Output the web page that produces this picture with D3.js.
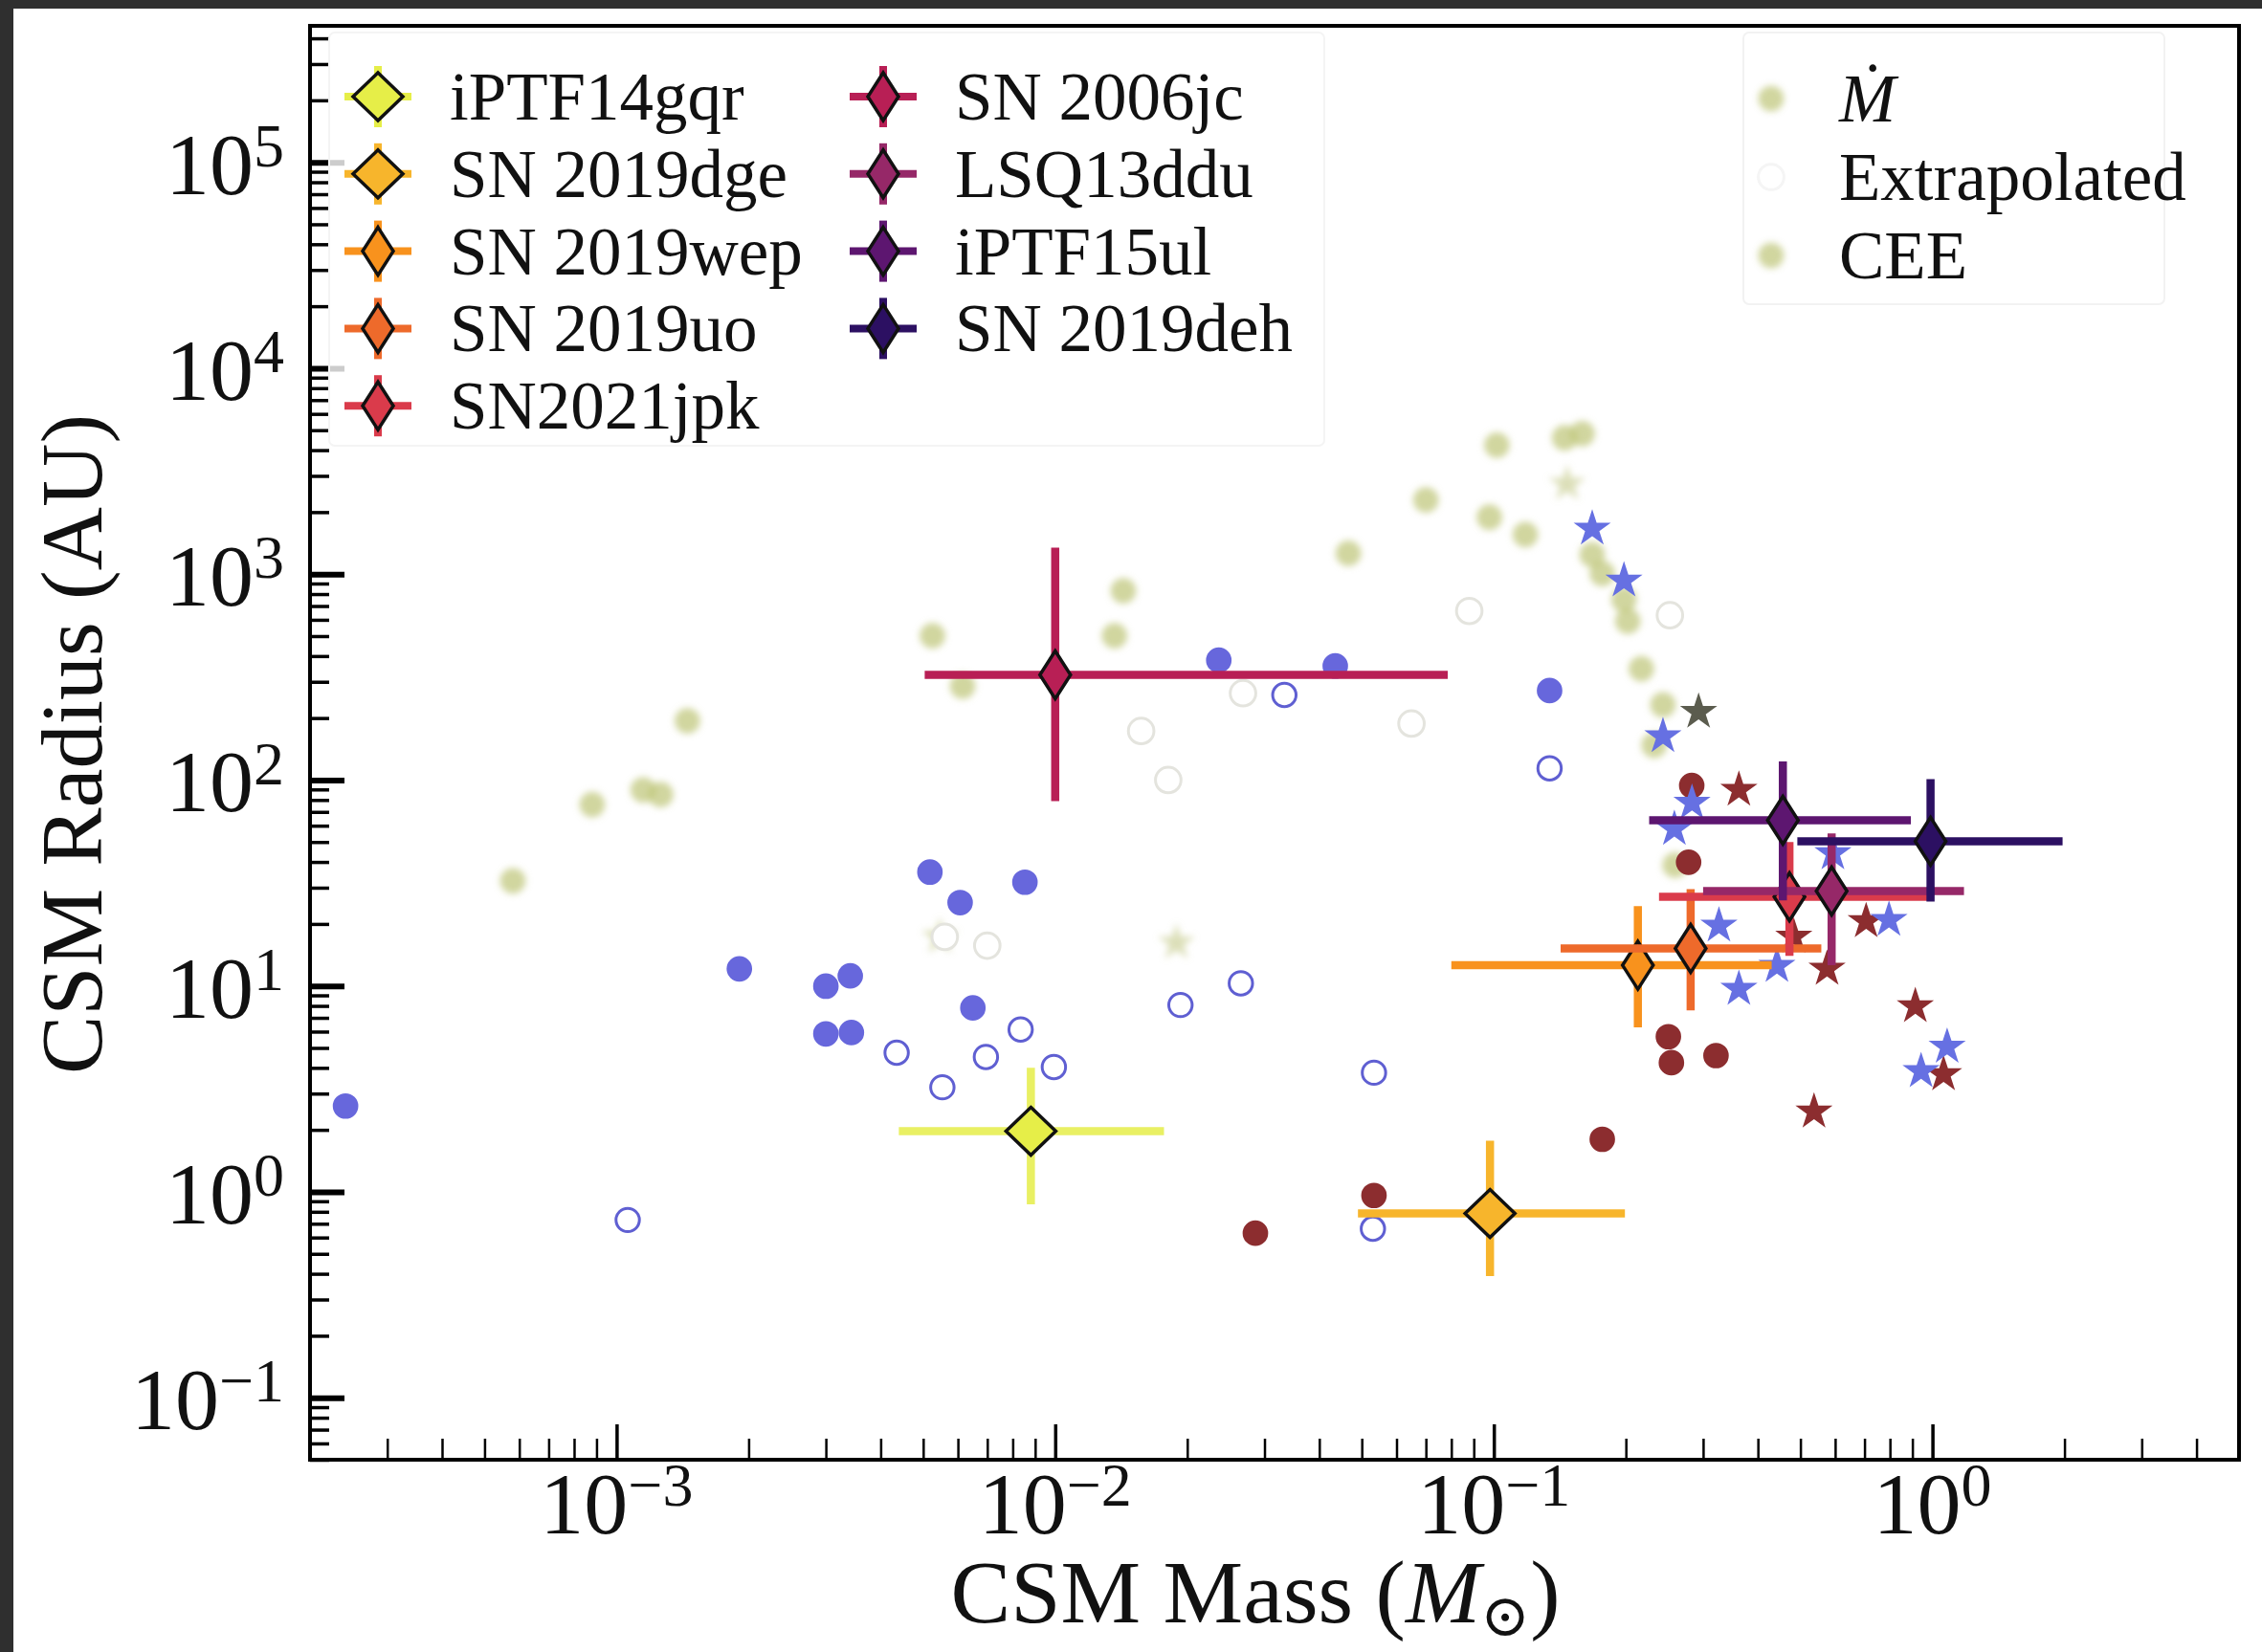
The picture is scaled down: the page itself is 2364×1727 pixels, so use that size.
<!DOCTYPE html>
<html>
<head>
<meta charset="utf-8">
<style>
  body { margin: 0; background: #ffffff; }
  text { font-family: "Liberation Serif", "DejaVu Serif", serif; fill: #111; }
</style>
<script src="https://d3js.org/d3.v7.min.js"></script>
</head>
<body>
<div id="chartContainer"></div>
<script type="text/javascript">
  // CSM mass vs CSM radius for interacting SNe, with literature samples behind

  // our objects: best value and error range in mass (Msun) and radius (AU)
  var sneNames = ["iPTF14gqr", "SN 2019dge", "SN 2019wep", "SN 2019uo", "SN2021jpk",
                  "SN 2006jc", "LSQ13ddu", "iPTF15ul", "SN 2019deh"];
  var sneMass   = [0.0088, 0.098, 0.213, 0.281, 0.472, 0.010, 0.589, 0.456, 0.99];
  var sneMassLo = [0.0044, 0.049, 0.080, 0.142, 0.238, 0.00504, 0.30, 0.226, 0.492];
  var sneMassHi = [0.0177, 0.199, 0.430, 0.558, 1.00, 0.0785, 1.18, 0.893, 1.98];
  var sneRad    = [1.97, 0.785, 12.6, 15.2, 27.1, 324, 28.9, 63.8, 50.4];
  var sneRadLo  = [0.87, 0.39, 6.3, 7.6, 14, 79, 12.6, 26, 25.7];
  var sneRadHi  = [4.0, 1.77, 24.4, 29.5, 50, 1346, 55, 123, 101];

  // Mdot based estimates (filled, faded)
  var mdotMass = [5.8e-4, 8.8e-4, 1.15e-3, 1.26e-3, 1.45e-3, 5.25e-3, 6.15e-3, 0.01365, 0.0143,
                  0.0466, 0.070, 0.0977, 0.1016, 0.118, 0.145, 0.159, 0.1676, 0.1767,
                  0.198, 0.217, 0.232, 0.259, 0.202, 0.243];
  var mdotRad  = [32.4, 76, 89.5, 85, 194, 502, 286, 502, 830,
                  1262, 2291, 1889, 4230, 1556, 4590, 4810, 1242, 1006,
                  753, 347, 147.6, 38.6, 591, 232];

  // common envelope ejection models
  var ceeMass = [0.147, 5.46e-3, 0.0189];
  var ceeRad  = [2737, 17.3, 16.2];

  // extrapolated radii (open, very faint)
  var extrapMass = [0.0268, 0.0157, 0.0649, 0.0879, 0.0181, 5.6e-3, 7.0e-3, 0.252];
  var extrapRad  = [264, 173, 188, 662, 100, 17.3, 15.7, 631];

  // literature sample, blue
  var blueMass = [2.41e-4, 1.905e-3, 3.0e-3, 3.41e-3, 3.0e-3, 3.43e-3, 5.18e-3, 6.07e-3,
                  6.49e-3, 8.53e-3, 0.0236, 0.0435, 0.134];
  var blueRad  = [2.61, 12.1, 9.97, 11.2, 5.85, 5.94, 35.7, 25.4,
                  7.82, 31.9, 382, 358, 272];
  var blueOpenMass = [1.06e-3, 4.35e-3, 5.53e-3, 6.95e-3, 8.34e-3, 9.93e-3, 0.0193,
                      0.0265, 0.0333, 0.0533, 0.053, 0.134];
  var blueOpenRad  = [0.73, 4.74, 3.22, 4.52, 6.14, 4.04, 8.08,
                      10.3, 259, 3.79, 0.662, 114];
  var blueStarMass = [0.1676, 0.198, 0.243, 0.283, 0.258, 0.593, 0.326, 0.796,
                      0.442, 0.362, 1.08, 0.942];
  var blueStarRad  = [1660, 929, 163, 77.4, 57.8, 44, 19.6, 20.9,
                      12.5, 9.66, 5.06, 3.85];

  // literature sample, dark red
  var redMass = [0.0286, 0.0533, 0.1767, 0.250, 0.254, 0.321, 0.2826, 0.278];
  var redRad  = [0.63, 0.96, 1.80, 5.67, 4.24, 4.59, 94, 39.9];
  var redStarMass = [0.362, 0.537, 0.483, 0.575, 0.706, 0.914, 1.06];
  var redStarRad  = [89.5, 2.45, 17.3, 12.1, 20.6, 7.96, 3.72];

  var grayStarMass = [0.293];
  var grayStarRad  = [214];

  var xMajor = [1e-3, 1e-2, 1e-1, 1];
  var yMajor = [1e-1, 1e0, 1e1, 1e2, 1e3, 1e4, 1e5];
  var xExp = ["\u22123", "\u22122", "\u22121", "0"];
  var yExp = ["\u22121", "0", "1", "2", "3", "4", "5"];

  var mdotLabels = ["\u1E40", "Extrapolated", "CEE"];

  // colours for our objects, light to dark
  var sneColors = ["#e6ee48", "#f7b52c", "#f8921d", "#ee6a2b", "#da3b4b",
                   "#b81f55", "#962868", "#5d1670", "#2c1062"];
  var wideDiamond = [true, true, false, false, false, false, false, false, false];

  var W = 2364, H = 1727;
  var plotL = 324, plotR = 2340, plotT = 27, plotB = 1526;

  var svg = d3.select("#chartContainer").append("svg")
      .attr("width", W).attr("height", H);

  svg.append("rect").attr("width", W).attr("height", H).attr("fill", "#fff");
  // dark border along the top and left edges
  svg.append("rect").attr("x", 0).attr("y", 0).attr("width", W).attr("height", 9).attr("fill", "#2f2f2f");
  svg.append("rect").attr("x", 0).attr("y", 0).attr("width", 14).attr("height", H).attr("fill", "#2f2f2f");

  var defs = svg.append("defs");
  defs.append("filter").attr("id", "soft")
      .attr("x", "-50%").attr("y", "-50%").attr("width", "200%").attr("height", "200%")
    .append("feGaussianBlur").attr("stdDeviation", 3.5);
  defs.append("clipPath").attr("id", "plotClip")
    .append("rect").attr("x", plotL).attr("y", plotT).attr("width", plotR - plotL).attr("height", plotB - plotT);

  var x = d3.scaleLog().domain([2e-4, 5]).range([plotL, plotR]);
  var y = d3.scaleLog().domain([0.05, 4.6e5]).range([plotB, plotT]);

  function minors(lo, hi, k0, k1) {
    var out = [];
    for (var k = k0; k <= k1; k++) {
      for (var m = 2; m <= 9; m++) {
        var v = m * Math.pow(10, k);
        if (v >= lo && v <= hi) out.push(v);
      }
    }
    return out;
  }

  var plot = svg.append("g").attr("clip-path", "url(#plotClip)");

  function zip(a, b) { return a.map(function (d, i) { return [d, b[i]]; }); }
  function place(d) { return "translate(" + x(d[0]) + "," + y(d[1]) + ")"; }

  var circle = d3.symbol().type(d3.symbolCircle).size(560);
  var star = d3.symbol().type(d3.symbolStar).size(470);

  // faded model points
  plot.append("g").attr("filter", "url(#soft)")
    .selectAll("path").data(zip(mdotMass, mdotRad)).enter().append("path")
      .attr("transform", place)
      .attr("d", circle)
      .attr("fill", "#bfc67a").attr("opacity", 0.72);

  plot.append("g").attr("filter", "url(#soft)")
    .selectAll("path").data(zip(ceeMass, ceeRad)).enter().append("path")
      .attr("transform", place)
      .attr("d", star)
      .attr("fill", "#c4ca8a").attr("opacity", 0.6);

  plot.append("g")
    .selectAll("path").data(zip(extrapMass, extrapRad)).enter().append("path")
      .attr("transform", place)
      .attr("d", circle)
      .attr("fill", "#fff").attr("stroke", "#e4e4de").attr("stroke-width", 3);

  // literature points
  plot.append("g")
    .selectAll("path").data(zip(blueOpenMass, blueOpenRad)).enter().append("path")
      .attr("transform", place)
      .attr("d", d3.symbol().type(d3.symbolCircle).size(470))
      .attr("fill", "#fff").attr("stroke", "#5f5fd2").attr("stroke-width", 3);

  plot.append("g")
    .selectAll("path").data(zip(blueMass, blueRad)).enter().append("path")
      .attr("transform", place)
      .attr("d", circle)
      .attr("fill", "#6767dc");

  plot.append("g")
    .selectAll("path").data(zip(redMass, redRad)).enter().append("path")
      .attr("transform", place)
      .attr("d", circle)
      .attr("fill", "#8c2d2f");

  plot.append("g")
    .selectAll("path").data(zip(redStarMass, redStarRad)).enter().append("path")
      .attr("transform", place)
      .attr("d", star)
      .attr("fill", "#8c2d2f");

  plot.append("g")
    .selectAll("path").data(zip(blueStarMass, blueStarRad)).enter().append("path")
      .attr("transform", place)
      .attr("d", star)
      .attr("fill", "#6670e2");

  plot.append("g")
    .selectAll("path").data(zip(grayStarMass, grayStarRad)).enter().append("path")
      .attr("transform", place)
      .attr("d", star)
      .attr("fill", "#5b5c4e");

  // diamond outlines; thin ones for most objects
  function diamondPath(wide) {
    var hw = wide ? 26 : 16, hh = 25;
    return "M0," + (-hh) + "L" + hw + ",0L0," + hh + "L" + (-hw) + ",0Z";
  }

  // error bars and markers for our objects
  var sne = sneNames.map(function (n, i) { return i; });
  var eb = svg.append("g").attr("clip-path", "url(#plotClip)");
  sne.forEach(function (i) {
    var g = eb.append("g");
    var c = sneColors[i];
    var op = i === 0 ? 0.85 : 1;
    g.append("line")
      .attr("x1", x(sneMassLo[i])).attr("x2", x(sneMassHi[i]))
      .attr("y1", y(sneRad[i])).attr("y2", y(sneRad[i]))
      .attr("stroke", c).attr("stroke-width", 8.5).attr("opacity", op);
    g.append("line")
      .attr("x1", x(sneMass[i])).attr("x2", x(sneMass[i]))
      .attr("y1", y(sneRadLo[i])).attr("y2", y(sneRadHi[i]))
      .attr("stroke", c).attr("stroke-width", 8.5).attr("opacity", op);
    g.append("path")
      .attr("transform", "translate(" + x(sneMass[i]) + "," + y(sneRad[i]) + ")")
      .attr("d", diamondPath(wideDiamond[i]))
      .attr("fill", c).attr("stroke", "#111").attr("stroke-width", 3.5);
  });

  // axes: ticks point inward, bottom and left only
  var xMinor = minors(2e-4, 5, -4, 0);
  var yMinor = minors(0.05, 4.6e5, -2, 5);

  var gx = svg.append("g").attr("transform", "translate(0," + plotB + ")");
  gx.call(d3.axisBottom(x).tickValues(xMinor).tickSize(-22).tickFormat(""));
  gx.selectAll(".tick line").attr("stroke-width", 2.5);
  var gx2 = svg.append("g").attr("transform", "translate(0," + plotB + ")");
  gx2.call(d3.axisBottom(x).tickValues(xMajor).tickSize(-37).tickFormat(""));
  gx2.selectAll(".tick line").attr("stroke-width", 3.5);

  var gy = svg.append("g").attr("transform", "translate(" + plotL + ",0)");
  gy.call(d3.axisLeft(y).tickValues(yMinor).tickSize(-20).tickFormat(""));
  gy.selectAll(".tick line").attr("stroke-width", 3.5);
  var gy2 = svg.append("g").attr("transform", "translate(" + plotL + ",0)");
  gy2.call(d3.axisLeft(y).tickValues(yMajor).tickSize(-36).tickFormat(""));
  gy2.selectAll(".tick line").attr("stroke-width", 6);

  svg.selectAll(".domain").remove();

  // frame
  svg.append("rect")
    .attr("x", plotL).attr("y", plotT).attr("width", plotR - plotL).attr("height", plotB - plotT)
    .attr("fill", "none").attr("stroke", "#000").attr("stroke-width", 4);

  // tick labels as 10^n
  xMajor.forEach(function (v, i) {
    var t = svg.append("text")
      .attr("x", x(v)).attr("y", plotB + 77)
      .attr("text-anchor", "middle").style("font-size", "92px");
    t.append("tspan").text("10");
    t.append("tspan").attr("dy", "-0.45em").style("font-size", "64px").text(xExp[i]);
  });
  yMajor.forEach(function (v, i) {
    var t = svg.append("text")
      .attr("x", plotL - 27).attr("y", y(v) + 33)
      .attr("text-anchor", "end").style("font-size", "92px");
    t.append("tspan").text("10");
    t.append("tspan").attr("dy", "-0.45em").style("font-size", "64px").text(yExp[i]);
  });

  // axis titles
  var xt = svg.append("text")
    .attr("x", 1312).attr("y", 1696)
    .attr("text-anchor", "middle").style("font-size", "94px");
  xt.append("tspan").text("CSM Mass (");
  xt.append("tspan").style("font-style", "italic").text("M");
  xt.append("tspan").attr("dy", "0.22em").style("font-size", "62px").text("\u2299");
  xt.append("tspan").attr("dy", "-0.15em").text(")");

  svg.append("text")
    .attr("transform", "translate(106,778) rotate(-90)")
    .attr("text-anchor", "middle").style("font-size", "92px")
    .text("CSM Radius (AU)");

  // legend for our objects, two columns (frame barely visible)
  var leg = svg.append("g");
  leg.append("rect")
    .attr("x", 344).attr("y", 34).attr("width", 1040).attr("height", 432).attr("rx", 6)
    .attr("fill", "#fff").attr("fill-opacity", 0.8)
    .attr("stroke", "#f4f4f4").attr("stroke-width", 2);

  sne.forEach(function (i) {
    var col = i < 5 ? 0 : 1;
    var row = i < 5 ? i : i - 5;
    var hx = col === 0 ? 395 : 923;
    var tx = col === 0 ? 470 : 998;
    var cy = 101 + row * 80.8;
    var c = sneColors[i];
    leg.append("line").attr("x1", hx - 35).attr("x2", hx + 35).attr("y1", cy).attr("y2", cy)
      .attr("stroke", c).attr("stroke-width", 8);
    leg.append("line").attr("x1", hx).attr("x2", hx).attr("y1", cy - 32).attr("y2", cy + 32)
      .attr("stroke", c).attr("stroke-width", 8);
    leg.append("path")
      .attr("transform", "translate(" + hx + "," + cy + ")")
      .attr("d", diamondPath(wideDiamond[i]))
      .attr("fill", c).attr("stroke", "#111").attr("stroke-width", 3.5);
    leg.append("text").attr("x", tx).attr("y", cy + 24)
      .style("font-size", "71px").text(sneNames[i]);
  });

  // legend for the model/extrapolated samples
  var leg2 = svg.append("g");
  leg2.append("rect")
    .attr("x", 1822).attr("y", 34).attr("width", 440).attr("height", 284).attr("rx", 6)
    .attr("fill", "#fff").attr("fill-opacity", 0.8)
    .attr("stroke", "#f2f2f2").attr("stroke-width", 2);
  var handleFill = ["#bfc67a", "#fff", "#bfc67a"];
  var handleStroke = ["none", "#f0f0f0", "none"];
  mdotLabels.forEach(function (lab, i) {
    var cy = 103 + i * 82;
    leg2.append("path")
      .attr("transform", "translate(1851," + cy + ")")
      .attr("d", circle)
      .attr("fill", handleFill[i]).attr("stroke", handleStroke[i]).attr("stroke-width", 3)
      .attr("opacity", 0.72).attr("filter", i === 1 ? null : "url(#soft)");
    leg2.append("text").attr("x", 1922).attr("y", cy + 24)
      .style("font-size", "71px").style("font-style", i === 0 ? "italic" : "normal")
      .text(lab);
  });
</script>
</body>
</html>
